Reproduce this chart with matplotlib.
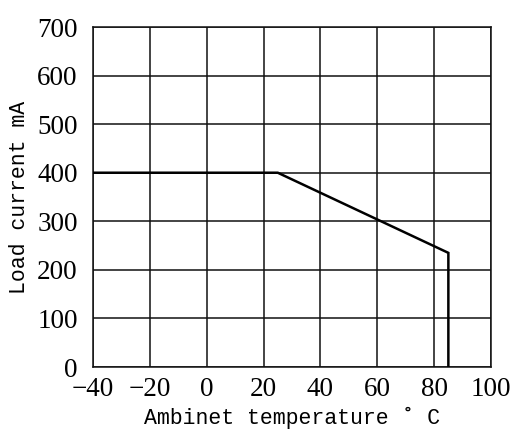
import matplotlib
matplotlib.use("Agg")
import matplotlib.pyplot as plt

# Derating curve: load current versus ambient temperature
temperature_c = [-40, 25, 85, 85]
load_current_ma = [400, 400, 235, 0]

x_ticks = [-40, -20, 0, 20, 40, 60, 80, 100]
y_ticks = [0, 100, 200, 300, 400, 500, 600, 700]

fig = plt.figure(figsize=(5.12, 4.40), dpi=100)
ax = fig.add_axes([0.1816, 0.1659, 0.959 - 0.1816, 0.9386 - 0.1659])

ax.plot(temperature_c, load_current_ma, color="black", linewidth=1.8,
        solid_joinstyle="miter", zorder=3)

ax.set_xlim(-40, 100)
ax.set_ylim(0, 700)
ax.set_xticks(x_ticks)
ax.set_yticks(y_ticks)
ax.set_xticklabels([f"{v:d}".replace("-", "\u2212") for v in x_ticks],
                   fontfamily="Liberation Serif", fontsize=19.5)
ax.set_yticklabels([str(v) for v in y_ticks],
                   fontfamily="Liberation Serif", fontsize=19.5)
ax.tick_params(axis="y", length=0, pad=11)
ax.tick_params(axis="x", length=0, pad=7)
ax.grid(True, color="#111111", linewidth=1.1)
ax.set_axisbelow(True)
for s in ax.spines.values():
    s.set_linewidth(1.1)
    s.set_color("#111111")

ax.set_xlabel("Ambinet temperature \u02da C", fontfamily="Liberation Mono",
              fontsize=15.5, labelpad=4)
ax.set_ylabel("Load current mA", fontfamily="Liberation Mono",
              fontsize=15.5, labelpad=5)

fig.savefig("out.png", dpi=100)
